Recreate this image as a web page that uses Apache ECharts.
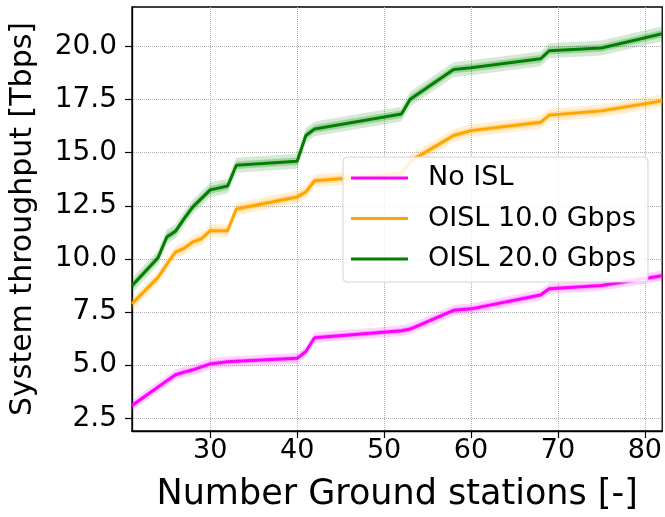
<!DOCTYPE html>
<html>
<head>
<meta charset="utf-8">
<script src="https://cdn.jsdelivr.net/npm/echarts@6/dist/echarts.min.js"></script>
<style>
  html, body { margin: 0; padding: 0; background: #fff; }
  #chart { width: 665px; height: 517px; }
</style>
</head>
<body>
<div id="chart"></div>
<script>
// number of ground stations where the curves change
var stations = [21, 24, 25, 26, 27, 28, 29, 30, 32, 33, 40, 41, 42, 52, 53, 58, 60, 68, 69, 75, 82];

// mean system throughput [Tbps]
var noIsl   = [3.10, 3.97, 4.26, 4.55, 4.67, 4.78, 4.92, 5.06, 5.16, 5.18, 5.32, 5.64, 6.29, 6.62, 6.70, 7.58, 7.65, 8.30, 8.60, 8.75, 9.21];
var oisl10  = [7.89, 9.13, 9.75, 10.32, 10.50, 10.80, 10.95, 11.33, 11.33, 12.35, 12.92, 13.15, 13.68, 14.00, 14.60, 15.81, 16.04, 16.43, 16.77, 16.97, 17.44];
var oisl20  = [8.74, 10.06, 11.03, 11.30, 11.90, 12.45, 12.85, 13.25, 13.43, 14.41, 14.60, 15.81, 16.12, 16.82, 17.52, 18.92, 19.00, 19.42, 19.80, 19.93, 20.60];

// half widths of the shaded bands (outer, inner)
var spreadNoIsl  = [0.25, 0.12];
var spread10     = [0.30, 0.15];
var spread20     = [0.35, 0.18];

var xTicks = [30, 40, 50, 60, 70, 80];
var yTicks = [2.5, 5.0, 7.5, 10.0, 12.5, 15.0, 17.5, 20.0];

var names  = ['No ISL', 'OISL 10.0 Gbps', 'OISL 20.0 Gbps'];
var colors = ['#ff00ff', '#ffa500', '#008000'];

var myChart = echarts.init(document.getElementById('chart'), null, { renderer: 'canvas' });

function pairs(vals) {
  return stations.map(function (x, i) { return [x, vals[i]]; });
}

// shaded band as one polygon, placed through the axis scales
function band(key, vals, half, color, alpha) {
  return {
    name: key,
    type: 'custom',
    silent: true,
    z: 1,
    data: pairs(vals),
    renderItem: function (params, api) {
      if (params.dataIndex !== 0) return null;
      var pts = [];
      for (var i = 0; i < stations.length; i++) {
        pts.push(api.coord([stations[i], vals[i] + half]));
      }
      for (var j = stations.length - 1; j >= 0; j--) {
        pts.push(api.coord([stations[j], vals[j] - half]));
      }
      return {
        type: 'polygon',
        shape: { points: pts },
        style: { fill: color, opacity: alpha }
      };
    }
  };
}

var series = [];
var allVals = [noIsl, oisl10, oisl20];
var spreads = [spreadNoIsl, spread10, spread20];
allVals.forEach(function (vals, k) {
  series.push(band('band' + k + 'o', vals, spreads[k][0], colors[k], 0.17));
  series.push(band('band' + k + 'i', vals, spreads[k][1], colors[k], 0.24));
});
allVals.forEach(function (vals, k) {
  series.push({
    name: names[k],
    type: 'line',
    data: pairs(vals),
    symbol: 'none',
    z: 3,
    color: colors[k],
    lineStyle: { color: colors[k], width: 3 }
  });
});

var option = {
  animation: false,
  backgroundColor: '#fff',
  grid: {
    left: 131, right: 2, top: 7, bottom: 82,
    show: true, borderColor: '#000', borderWidth: 1.3
  },
  legend: {
    data: names,
    orient: 'vertical',
    left: 343, top: 157,
    padding: [6, 12, 8, 8],
    itemGap: 10.5,
    icon: 'rect',
    itemWidth: 57, itemHeight: 3,
    backgroundColor: 'rgba(255,255,255,0.85)',
    borderColor: '#d4d4d4', borderWidth: 1, borderRadius: 4,
    textStyle: {
      fontFamily: 'DejaVu Sans', fontSize: 27, color: '#000',
      lineHeight: 30, padding: [0, 0, 0, 15]
    }
  },
  xAxis: {
    type: 'value',
    min: 21, max: 82,
    name: 'Number Ground stations [-]',
    nameLocation: 'middle',
    nameGap: 46,
    nameTextStyle: { fontFamily: 'DejaVu Sans', fontSize: 35, color: '#000' },
    axisLine: { lineStyle: { color: '#000', width: 1.3 } },
    axisTick: { inside: false, length: 7, customValues: xTicks, lineStyle: { color: '#000', width: 1.2 } },
    axisLabel: { customValues: xTicks, margin: 6, fontFamily: 'DejaVu Sans', fontSize: 27, color: '#000' },
    splitLine: { show: true, lineStyle: { type: 'dotted', color: '#b0b0b0', width: 1 } }
  },
  yAxis: {
    type: 'value',
    min: 1.9, max: 21.86,
    name: 'System throughput [Tbps]',
    nameLocation: 'middle',
    nameGap: 94,
    nameTextStyle: { fontFamily: 'DejaVu Sans', fontSize: 30, color: '#000' },
    axisLine: { lineStyle: { color: '#000', width: 1.3 } },
    axisTick: { inside: false, length: 7, customValues: yTicks, lineStyle: { color: '#000', width: 1.2 } },
    axisLabel: {
      customValues: yTicks, margin: 15, fontFamily: 'DejaVu Sans', fontSize: 28, color: '#000',
      formatter: function (v) { return v.toFixed(1); }
    },
    splitLine: { show: true, lineStyle: { type: 'dotted', color: '#b0b0b0', width: 1 } }
  },
  series: series
};

myChart.setOption(option);
</script>
</body>
</html>
